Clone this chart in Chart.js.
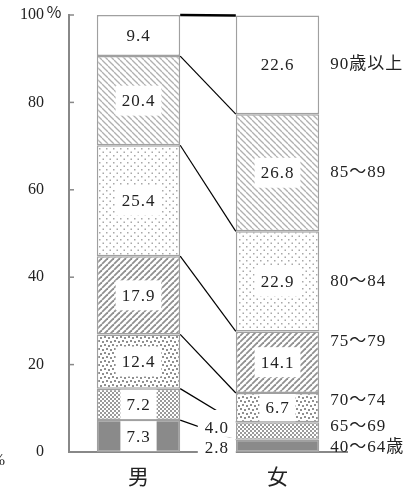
<!DOCTYPE html>
<html>
<head>
<meta charset="utf-8">
<script src="https://cdn.jsdelivr.net/npm/chart.js@4"></script>
<style>
  body { margin: 0; background: #fff; }
  #wrap { width: 408px; height: 490px; position: relative; }
</style>
</head>
<body>
<div id="wrap"><canvas id="myChart"></canvas></div>
<script>
// categories and age groups (bottom to top)
var categories = ["男", "女"];
var ageGroups = ["40～64歳", "65～69", "70～74", "75～79", "80～84", "85～89", "90歳以上"];
// shares in percent
var male = [7.3, 7.2, 12.4, 17.9, 25.4, 20.4, 9.4];
var female = [2.8, 4.0, 6.7, 14.1, 22.9, 26.8, 22.6];
var yTicks = [0, 20, 40, 60, 80, 100];

var FONT = "'Liberation Serif', 'Noto Sans CJK JP', serif";

// small tiles used as fill patterns
function tile(size, draw) {
  var c = document.createElement("canvas");
  c.width = size; c.height = size;
  var g = c.getContext("2d");
  g.fillStyle = "#fff";
  g.fillRect(0, 0, size, size);
  draw(g, size);
  return g.createPattern(c, "repeat");
}
var patterns = [
  "#8a8a8a",
  tile(4, function (g) { g.fillStyle = "#9a9a9a"; g.fillRect(0, 0, 2, 2); g.fillRect(2, 2, 2, 2); }),
  tile(8, function (g) {
    g.fillStyle = "#8f8f8f";
    g.fillRect(0, 0, 2, 2); g.fillRect(4, 1, 2, 2); g.fillRect(2, 4, 2, 2); g.fillRect(6, 5, 2, 2);
  }),
  tile(6, function (g) {
    g.strokeStyle = "#909090"; g.lineWidth = 1.8;
    for (var k = -6; k <= 6; k += 6) { g.beginPath(); g.moveTo(k, 6); g.lineTo(k + 6, 0); g.stroke(); }
  }),
  tile(7, function (g) { g.fillStyle = "#a8a8a8"; g.fillRect(1, 1, 1.5, 1.5); g.fillRect(4.5, 4.5, 1.5, 1.5); }),
  tile(6, function (g) {
    g.strokeStyle = "#b0b0b0"; g.lineWidth = 1.3;
    for (var k = -6; k <= 6; k += 6) { g.beginPath(); g.moveTo(k, 0); g.lineTo(k + 6, 6); g.stroke(); }
  }),
  "#ffffff"
];

var datasets = ageGroups.map(function (name, i) {
  return {
    label: name,
    data: [male[i], female[i]],
    backgroundColor: patterns[i],
    borderColor: "#a0a0a0",
    borderWidth: 1.5,
    borderSkipped: false
  };
});

// connectors, value labels, side labels, tick marks
var overlay = {
  id: "overlay",
  afterDatasetsDraw: function (chart) {
    var ctx = chart.ctx;
    var ys = chart.scales.y;
    var metas = chart.data.datasets.map(function (d, i) { return chart.getDatasetMeta(i); });
    ctx.save();

    // tick marks pointing into the plot
    ctx.strokeStyle = "#888"; ctx.lineWidth = 1.5;
    yTicks.forEach(function (v) {
      var py = ys.getPixelForValue(v);
      ctx.beginPath(); ctx.moveTo(chart.chartArea.left, py); ctx.lineTo(chart.chartArea.left + 5, py); ctx.stroke();
    });

    // lines joining the stacks
    ctx.strokeStyle = "#000";
    metas.forEach(function (m, i) {
      var a = m.data[0], b = m.data[1];
      ctx.lineWidth = i === metas.length - 1 ? 2.5 : 1.2;
      ctx.beginPath();
      ctx.moveTo(a.x + a.width / 2, a.y);
      ctx.lineTo(b.x - b.width / 2, b.y);
      ctx.stroke();
    });

    ctx.font = "17px " + FONT;
    ctx.letterSpacing = "1px";
    ctx.textAlign = "center";
    ctx.textBaseline = "middle";

    metas.forEach(function (m, i) {
      m.data.forEach(function (el, j) {
        var v = chart.data.datasets[i].data[j];
        var txt = v.toFixed(1);
        var cx = el.x, cy = (el.y + el.base) / 2;
        var w = ctx.measureText(txt).width + 12;
        var h = Math.min(30, Math.abs(el.base - el.y) - 2);
        var boxTop = cy - h / 2;
        if (j === 1 && i < 2) {
          // small female shares are written in the gap
          var left = el.x - el.width / 2;
          cx = left - 19;
          cy = ys.getPixelForValue(i === 0 ? 1.1 : 5.5);
          h = i === 0 ? 18 : 27;
          boxTop = i === 0 ? cy - 10 : cy - 18;
          w = 38;
        }
        ctx.fillStyle = "#fff";
        ctx.fillRect(cx - w / 2, boxTop, w, h);
        ctx.fillStyle = "#222";
        ctx.fillText(txt, cx, cy + 1);
      });
    });

    // age group names right of the female stack
    var sideAt = [1.1, 5.9, 11.7, 25.2, null, null, null];
    ctx.textAlign = "left";
    metas.forEach(function (m, i) {
      var b = m.data[1];
      var py = sideAt[i] !== null ? ys.getPixelForValue(sideAt[i]) : (b.y + b.base) / 2;
      ctx.fillText(ageGroups[i], b.x + b.width / 2 + 11, py);
    });

    // percent sign after the top tick, and the clipped one at bottom left
    ctx.letterSpacing = "0px";
    ctx.font = "16px " + FONT;
    ctx.fillText("％", chart.chartArea.left - 23, ys.getPixelForValue(100) - 1);
    ctx.textAlign = "right";
    ctx.fillText("%", 5, 461);
    ctx.restore();
  }
};

var ctx = document.getElementById("myChart");
var myChart = new Chart(ctx, {
  type: "bar",
  data: { labels: categories, datasets: datasets },
  plugins: [overlay],
  options: {
    responsive: true,
    maintainAspectRatio: false,
    animation: false,
    categoryPercentage: 1,
    barPercentage: 0.6,
    layout: { padding: { top: 15, right: 61, left: 0, bottom: 0 } },
    plugins: { legend: { display: false }, tooltip: { enabled: false } },
    scales: {
      x: {
        stacked: true,
        grid: { display: false },
        border: { display: true, color: "#888", width: 2 },
        ticks: { padding: 3, color: "#222", font: { family: "'Noto Sans CJK JP'", size: 21 } },
        afterFit: function (s) { s.height = 38; s.paddingLeft = 0; s.paddingRight = 0; }
      },
      y: {
        stacked: true,
        min: 0, max: 100,
        afterBuildTicks: function (s) { s.ticks = yTicks.map(function (v) { return { value: v }; }); },
        grid: { display: false },
        border: { display: true, color: "#888", width: 2 },
        ticks: { padding: 17, color: "#222", font: { family: FONT, size: 16 } },
        afterFit: function (s) { s.width = 69; s.paddingTop = 0; s.paddingBottom = 0; }
      }
    }
  }
});
</script>
</body>
</html>
